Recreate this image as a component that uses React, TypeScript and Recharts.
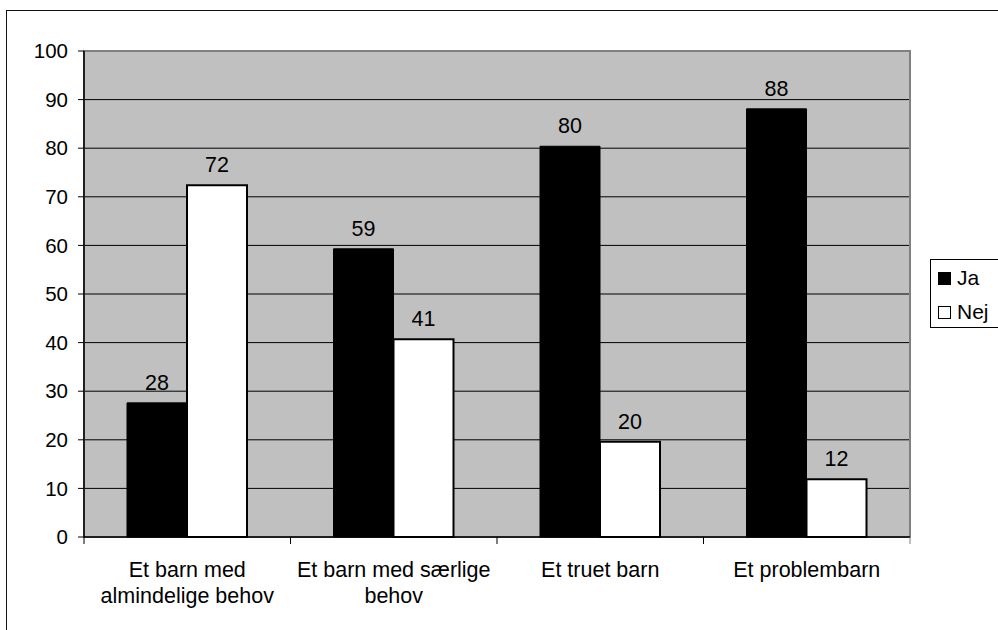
import { BarChart, Bar, XAxis, YAxis, CartesianGrid, LabelList, ReferenceArea, Legend } from "recharts";

const categories = [
  ["Et barn med", "almindelige behov"],
  ["Et barn med særlige", "behov"],
  ["Et truet barn"],
  ["Et problembarn"],
];
const jaValues = [27.6, 59.3, 80.4, 88.1];
const nejValues = [72.4, 40.7, 19.6, 11.9];
const yTicks = [0, 10, 20, 30, 40, 50, 60, 70, 80, 90, 100];

const W = 998;
const H = 630;
const M = { top: 51, right: 88, left: 0, bottom: 0 };
const Y_AXIS_W = 84;
const FONT = '"Liberation Sans", Arial, sans-serif';

const data = categories.map((lines, i) => ({
  name: lines.join(" "),
  ja: jaValues[i],
  nej: nejValues[i],
}));

const band = (W - M.left - M.right - Y_AXIS_W) / categories.length;

function CategoryTick(props: any) {
  const { x, y, index } = props;
  const lines = categories[index] || [];
  const top = y - 8; // axis line position
  return (
    <g>
      <line x1={x - band / 2} x2={x - band / 2} y1={top} y2={top + 7} stroke="#000" strokeWidth={1} />
      {index === categories.length - 1 && (
        <line x1={x + band / 2} x2={x + band / 2} y1={top} y2={top + 7} stroke="#808080" strokeWidth={1} />
      )}
      <text x={x} y={top + 40} textAnchor="middle" fontSize={21.5} fontFamily={FONT} fill="#000">
        {lines.map((l: string, i: number) => (
          <tspan key={i} x={x} dy={i === 0 ? 0 : 26}>
            {l}
          </tspan>
        ))}
      </text>
    </g>
  );
}

function LegendBox() {
  const items = [
    { label: "Ja", fill: "#000" },
    { label: "Nej", fill: "#fff" },
  ];
  return (
    <div
      style={{
        position: "absolute",
        left: 930,
        top: 259,
        width: 80,
        height: 69,
        border: "1px solid #000",
        background: "#fff",
        fontFamily: FONT,
        fontSize: 21,
        boxSizing: "border-box",
      }}
    >
      {items.map((it, i) => (
        <div key={it.label} style={{ position: "absolute", left: 7, top: 6 + i * 34, display: "flex", alignItems: "center" }}>
          <span
            style={{
              width: 13,
              height: 13,
              background: it.fill,
              border: "1.5px solid #000",
              boxSizing: "border-box",
              display: "inline-block",
              marginRight: 6,
            }}
          />
          <span style={{ lineHeight: "24px" }}>{it.label}</span>
        </div>
      ))}
    </div>
  );
}

export default function App() {
  return (
    <div style={{ position: "absolute", left: 0, top: 0, width: W, height: H, overflow: "hidden", background: "#fff" }}>
      <div
        style={{
          position: "absolute",
          left: 6,
          top: 10,
          width: W,
          height: H,
          border: "1.5px solid #111",
        }}
      />
      <BarChart width={W} height={H} data={data} margin={M} barGap={0} barSize={60} style={{ position: "absolute", left: 0, top: 0 }}>
        <CartesianGrid fill="#C0C0C0" fillOpacity={1} stroke="#000" vertical={false} />
        <ReferenceArea y1={0} y2={100} fill="none" stroke="#808080" strokeWidth={2} />
        <XAxis
          dataKey="name"
          height={93}
          axisLine={{ stroke: "#000", strokeWidth: 1.5 }}
          tickLine={false}
          tick={<CategoryTick />}
          interval={0}
        />
        <YAxis
          width={Y_AXIS_W}
          domain={[0, 100]}
          ticks={yTicks}
          interval={0}
          axisLine={{ stroke: "#000", strokeWidth: 1.5 }}
          tickLine={{ stroke: "#000" }}
          tickSize={6}
          tickMargin={10}
          tick={{ fontSize: 20.5, fontFamily: FONT, fill: "#000" }}
        />
        <Legend content={() => null} />
        <Bar dataKey="ja" name="Ja" fill="#000" stroke="#000" strokeWidth={1} isAnimationActive={false}>
          <LabelList
            dataKey="ja"
            position="top"
            offset={13}
            formatter={(v: any) => Math.round(Number(v))}
            style={{ fontSize: 21.5, fontFamily: FONT, fill: "#000" }}
          />
        </Bar>
        <Bar dataKey="nej" name="Nej" fill="#fff" stroke="#000" strokeWidth={2} isAnimationActive={false}>
          <LabelList
            dataKey="nej"
            position="top"
            offset={13}
            formatter={(v: any) => Math.round(Number(v))}
            style={{ fontSize: 21.5, fontFamily: FONT, fill: "#000" }}
          />
        </Bar>
      </BarChart>
      <LegendBox />
    </div>
  );
}
